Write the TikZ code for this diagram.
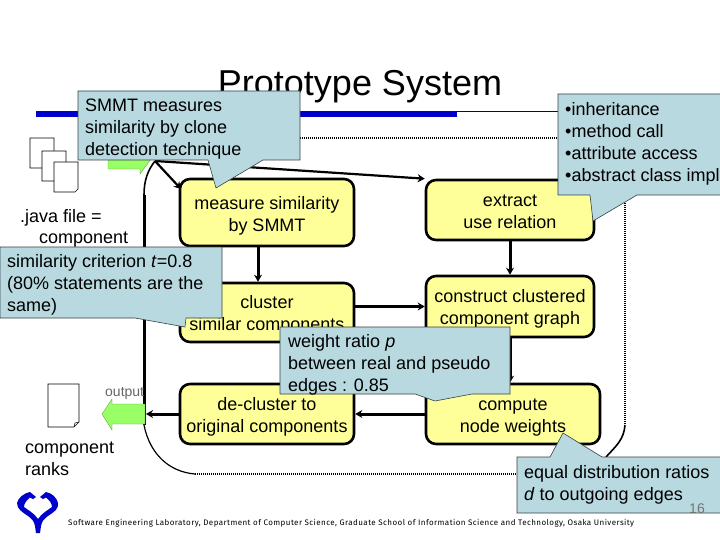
\documentclass[tikz,border=0pt]{standalone}
\usepackage{fontspec}
\setmainfont{Liberation Sans}
\newfontfamily\footfont[LetterSpace=5.5]{Fira Sans}
\usetikzlibrary{arrows.meta}
\newcommand{\topstrut}[1]{\rule{0pt}{#1pt}}
\definecolor{boxyellow}{HTML}{FFFF99}
\definecolor{calloutblue}{HTML}{B8D9E0}
\definecolor{arrowgreen}{HTML}{99FF66}
\definecolor{titleblue}{HTML}{0000CC}
\tikzset{
  flowbox/.style={draw=black,line width=2.6pt,fill=boxyellow,rounded corners=10pt,inner sep=0pt,align=center,font=\fontsize{18}{22}\selectfont},
  plaintext/.style={inner sep=0pt,anchor=west,align=left,font=\fontsize{18}{22}\selectfont},
  callout/.style={draw=black!70!calloutblue,line width=0.6pt,fill=calloutblue},
  flow/.style={line width=3pt,-{Stealth[length=7pt,width=8pt]}},
  doc/.style={draw=black,line width=0.7pt,fill=white},
  frameline/.style={line width=2pt,dash pattern=on 1pt off 1pt},
  greenarrow/.style={draw=black!35!arrowgreen,line width=0.4pt,fill=arrowgreen},
}
\begin{document}
\begin{tikzpicture}[x=1pt,y=-1pt]
\useasboundingbox[fill=white] (0,0) rectangle (720,540);
% title and rule
\node[inner sep=0pt,font=\fontsize{36}{40}\selectfont] (title) at (360,87) {Prototype System};
\fill[titleblue] (36,111) rectangle (457,117);
\draw[titleblue!70!black,line width=0.7pt] (457,111.7) -- (558,111.7);
% frame
\coordinate (hub) at (155,161);
\coordinate (leftbottom) at (144,425);
\coordinate (bottomstart) at (195,474);
\coordinate (bottomend) at (516,474);
\coordinate (righttop) at (625,195);
\coordinate (rightbottom) at (625,425);
\coordinate (rightend) at (606,457);
\draw[frameline] (200,138) -- (558,138);
\draw[frameline] (bottomstart) -- (bottomend);
\draw[frameline] (righttop) -- (rightbottom);
\draw[line width=1.6pt] (rightbottom) .. controls (624,440) and (615,447) .. (rightend);
\draw[line width=3pt] (144,195) -- (leftbottom);
\draw[line width=1.6pt] (hub) .. controls (148,170) and (144,180) .. (144,195);
\draw[line width=1.2pt] (leftbottom) .. controls (150,455) and (170,472) .. (bottomstart);
% documents
\foreach \n/\xa/\ya in {a/30/138,b/42/151,c/54/162}{
  \draw[doc] (\xa,\ya) -- ++(24,0) -- ++(0,27) -- ++(-3,3) -- ++(-21,0) -- cycle;
}
\draw[doc] (48,384) -- (79,384) -- (79,422) -- (74,427) -- (48,427) -- cycle;
\draw[line width=0.5pt] (74,427) -- (75,423) -- (79,422);
% green arrows
\draw[greenarrow] (108,149) -- (140,149) -- (140,144) -- (151,159) -- (140,174) -- (140,169) -- (108,169) -- cycle;
\draw[greenarrow] (102,414) -- (112,399) -- (112,404) -- (145,404) -- (145,424) -- (112,424) -- (112,430) -- cycle;
% boxes
\node[flowbox,minimum width=174pt,minimum height=67pt] (measure) at (267,212.5) {\topstrut{19}measure similarity\\by SMMT};
\node[flowbox,minimum width=168pt,minimum height=60pt] (extract) at (510,210) {\topstrut{15}extract\\use relation};
\node[flowbox,minimum width=174pt,minimum height=59pt] (cluster) at (267,312.5) {\topstrut{17}cluster\\similar components};
\node[flowbox,minimum width=168pt,minimum height=61pt] (construct) at (510,306.5) {\topstrut{17}construct clustered\\component graph};
\node[flowbox,minimum width=174pt,minimum height=60pt] (decluster) at (267,414) {\topstrut{19}de-cluster to\\original components};
\node[flowbox,minimum width=174pt,minimum height=60pt] (compute) at (513,414) {\topstrut{19}compute\\node weights};
% connectors
\draw[flow,line width=2.2pt] (hub) -- (181,189);
\draw[flow,line width=2.2pt] (hub) -- (extract.north west);
\draw[flow] ([xshift=-9pt]measure.south) -- ([xshift=-9pt]cluster.north);
\draw[flow] (extract.south) -- (construct.north);
\draw[flow] (cluster.east |- construct.center) -- (construct.west);
\draw[flow] (construct.south) -- ([xshift=-3pt]compute.north);
\draw[flow] (compute.west) -- (decluster.east);
\draw[flow] (decluster.west) -- (146,414);
% plain labels
\node[plaintext] (java) at (20,218) {.java file =};
\node[plaintext] (comp) at (39,240) {component};
\node[plaintext] (ranks) at (25,459) {component\\ranks};
\node[plaintext,text=black!60,font=\fontsize{14}{16}\selectfont] (output) at (105,393) {output};
% callouts
\draw[callout] (78,91) -- (300,91) -- (300,160) -- (263,160) -- (216,188) -- (208,160) -- (78,160) -- cycle;
\node[plaintext] (c1) at (85,129) {SMMT measures\\similarity by clone\\detection technique};
\draw[callout] (0,247) -- (222,247) -- (222,318) -- (186,318) -- (185,327) -- (135,318) -- (0,318) -- cycle;
\node[plaintext] (c3) at (7,285) {similarity criterion \textit{t}=0.8\\(80\% statements are the\\same)};
\draw[callout] (558,94) -- (722,94) -- (722,195) -- (637,195) -- (593,221) -- (590,195) -- (558,195) -- cycle;
\node[plaintext] (c2) at (565,144) {•inheritance\\•method call\\•attribute access\\•abstract class impl};
\draw[callout] (280,327) -- (510,327) -- (510,394) -- (472,394) -- (435,401) -- (415,394) -- (280,394) -- cycle;
\node[plaintext] (c4) at (288,365) {weight ratio \textit{p}\\between real and pseudo\\edges : 0.85};
\draw[callout] (517,457) -- (550,457) -- (563,433) -- (602,457) -- (722,457) -- (722,513) -- (517,513) -- cycle;
\node[plaintext] (c5) at (524,485) {equal distribution ratios\\\textit{d} to outgoing edges};
% page number, footer, logo
\node[inner sep=0pt,text=black!55,font=\fontsize{14}{16}\selectfont] (page) at (697,509) {16};
\node[inner sep=0pt,anchor=west,font=\footfont\fontsize{8}{10}\selectfont] (footer) at (68,523) {Software Engineering Laboratory, Department of Computer Science, Graduate School of Information Science and Technology, Osaka University};
\fill[titleblue] (36,533) -- (40,533) -- (41,526) .. controls (42,521) and (44,519) .. (48,516) .. controls (54,512) and (59,509) .. (58,503) .. controls (57,498) and (52,493) .. (46,492) -- (40,497) -- (43,499) -- (46,497.5) .. controls (49,500) and (52,503) .. (52,507) .. controls (48,510) and (42,513) .. (38,519) .. controls (34,513) and (28,510) .. (24,507) .. controls (24,503) and (27,500) .. (30,497.5) -- (33,499) -- (36,497) -- (30,492) .. controls (24,493) and (18,498) .. (17,503) .. controls (17,509) and (22,512) .. (28,516) .. controls (32,519) and (34,521) .. (35,526) -- cycle;
\end{tikzpicture}
\end{document}
